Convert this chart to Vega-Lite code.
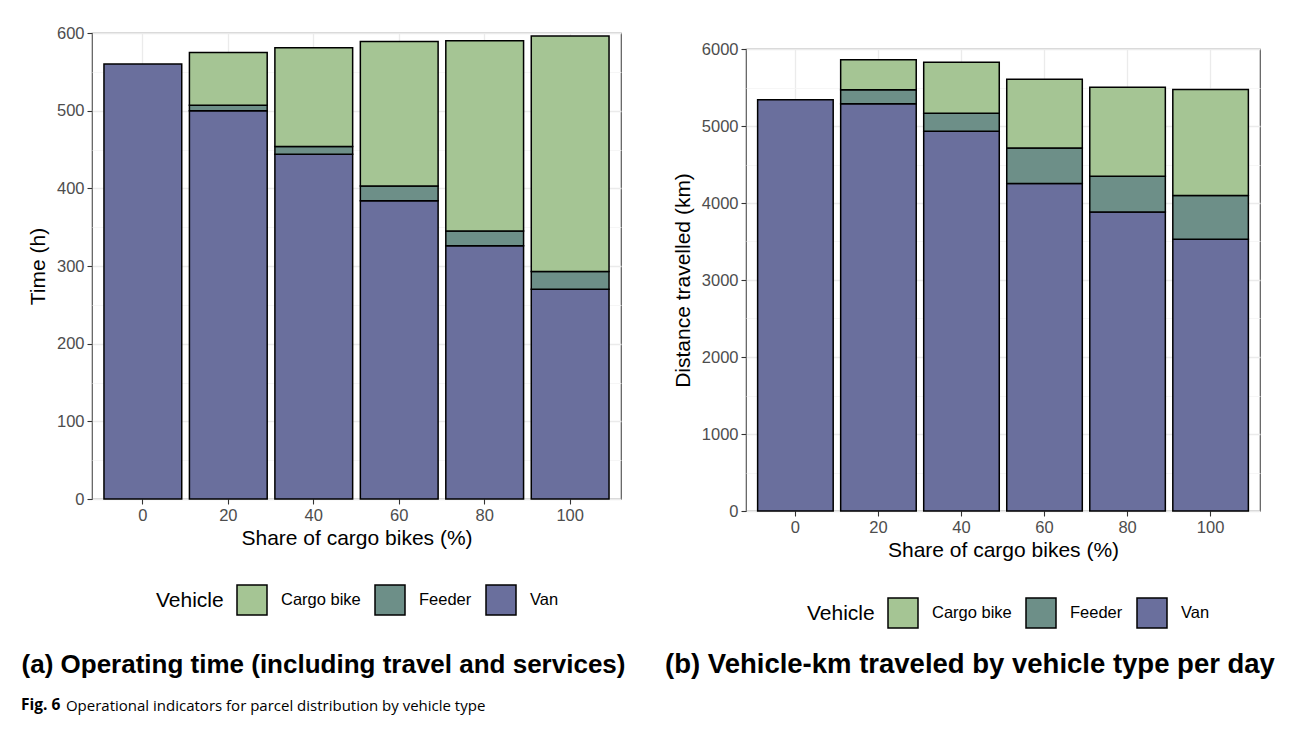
{
  "$schema": "https://vega.github.io/schema/vega-lite/v6.json",
  "background": "white",
  "padding": {"left": 20, "top": 24, "right": 5, "bottom": 5},
  "config": {
    "font": "Liberation Sans",
    "view": {"stroke": "#5a5a5a", "strokeWidth": 1.2},
    "axis": {
      "domain": false,
      "tickColor": "#333333",
      "tickSize": 5,
      "tickWidth": 1.1,
      "labelColor": "#4D4D4D",
      "labelFontSize": 16.5,
      "labelPadding": 3,
      "titleFontSize": 21,
      "titleFontWeight": "normal",
      "titleColor": "black",
      "gridColor": "#EBEBEB",
      "gridWidth": 1.3
    },
    "legend": {
      "orient": "none",
      "direction": "horizontal",
      "titleOrient": "left",
      "titleBaseline": "middle",
      "titleFontSize": 21,
      "titleFontWeight": "normal",
      "titleColor": "black",
      "titlePadding": 12,
      "labelFontSize": 16.5,
      "labelColor": "black",
      "labelOffset": 13,
      "columnPadding": 11,
      "symbolType": "square",
      "symbolSize": 900,
      "symbolStrokeColor": "black",
      "symbolStrokeWidth": 1.5,
      "symbolOpacity": 1
    }
  },
  "datasets": {
    "time": [
      {"share": 0, "vehicle": "Van", "hours": 560},
      {"share": 20, "vehicle": "Van", "hours": 500},
      {"share": 20, "vehicle": "Feeder", "hours": 7},
      {"share": 20, "vehicle": "Cargo bike", "hours": 68},
      {"share": 40, "vehicle": "Van", "hours": 444},
      {"share": 40, "vehicle": "Feeder", "hours": 10},
      {"share": 40, "vehicle": "Cargo bike", "hours": 127},
      {"share": 60, "vehicle": "Van", "hours": 384},
      {"share": 60, "vehicle": "Feeder", "hours": 19},
      {"share": 60, "vehicle": "Cargo bike", "hours": 186},
      {"share": 80, "vehicle": "Van", "hours": 326},
      {"share": 80, "vehicle": "Feeder", "hours": 19},
      {"share": 80, "vehicle": "Cargo bike", "hours": 245},
      {"share": 100, "vehicle": "Van", "hours": 270},
      {"share": 100, "vehicle": "Feeder", "hours": 23},
      {"share": 100, "vehicle": "Cargo bike", "hours": 303}
    ],
    "distance": [
      {"share": 0, "vehicle": "Van", "km": 5340},
      {"share": 20, "vehicle": "Van", "km": 5290},
      {"share": 20, "vehicle": "Feeder", "km": 182},
      {"share": 20, "vehicle": "Cargo bike", "km": 389},
      {"share": 40, "vehicle": "Van", "km": 4931},
      {"share": 40, "vehicle": "Feeder", "km": 234},
      {"share": 40, "vehicle": "Cargo bike", "km": 662},
      {"share": 60, "vehicle": "Van", "km": 4252},
      {"share": 60, "vehicle": "Feeder", "km": 462},
      {"share": 60, "vehicle": "Cargo bike", "km": 892},
      {"share": 80, "vehicle": "Van", "km": 3884},
      {"share": 80, "vehicle": "Feeder", "km": 463},
      {"share": 80, "vehicle": "Cargo bike", "km": 1156},
      {"share": 100, "vehicle": "Van", "km": 3528},
      {"share": 100, "vehicle": "Feeder", "km": 568},
      {"share": 100, "vehicle": "Cargo bike", "km": 1377}
    ]
  },
  "title": {
    "text": "Fig. 6",
    "orient": "bottom",
    "anchor": "start",
    "frame": "bounds",
    "offset": -16,
    "font": "Open Sans",
    "fontSize": 15.5,
    "fontWeight": "bold",
    "color": "black"
  },
  "vconcat": [
    {
      "title": {
        "text": "Operational indicators for parcel distribution by vehicle type",
        "orient": "bottom",
        "anchor": "start",
        "frame": "bounds",
        "dx": 45,
        "offset": 20,
        "font": "Open Sans",
        "fontSize": 15,
        "fontWeight": "normal",
        "color": "black"
      },
      "hconcat": [
        {
          "width": 529,
          "height": 466,
          "data": {"name": "time"},
          "title": {
            "text": "(a) Operating time (including travel and services)",
            "orient": "bottom",
            "anchor": "middle",
            "dx": -33,
            "offset": 34,
            "fontSize": 26,
            "fontWeight": "bold",
            "color": "black"
          },
          "encoding": {
            "x": {
              "field": "share",
              "type": "ordinal",
              "scale": {"paddingInner": 0.09, "paddingOuter": 0.14},
              "axis": {"labelAngle": 0, "title": "Share of cargo bikes (%)", "titlePadding": 4, "grid": true, "bandPosition": 0.5}
            }
          },
          "layer": [
            {
              "mark": {"type": "point", "opacity": 0},
              "encoding": {
                "y": {
                  "field": "hours",
                  "type": "quantitative",
                  "scale": {"domain": [0, 600], "nice": false, "zero": true},
                  "axis": {"orient": "left", "values": [50, 150, 250, 350, 450, 550], "grid": true, "gridColor": "#F4F4F4", "gridWidth": 0.8, "labels": false, "ticks": false, "title": null}
                }
              }
            },
            {
              "mark": {"type": "bar", "stroke": "black", "strokeWidth": 1.5},
              "encoding": {
                "y": {
                  "field": "hours",
                  "type": "quantitative",
                  "stack": "zero",
                  "scale": {"domain": [0, 600], "nice": false, "zero": true},
                  "axis": {"orient": "left", "values": [0, 100, 200, 300, 400, 500, 600], "format": "d", "grid": true, "title": "Time (h)", "titlePadding": 8}
                },
                "color": {
                  "field": "vehicle",
                  "type": "nominal",
                  "scale": {"domain": ["Cargo bike", "Feeder", "Van"], "range": ["#A5C594", "#6D8F88", "#6A6F9D"]},
                  "legend": {"title": "Vehicle", "legendX": 64, "legendY": 551}
                },
                "order": {"field": "vehicle", "sort": "descending"}
              }
            }
          ],
          "resolve": {"axis": {"y": "independent"}}
        },
        {
          "spacing": 0,
          "vconcat": [
            {
              "width": 514,
              "height": 7,
              "view": {"stroke": null},
              "data": {"values": []},
              "mark": "point",
              "encoding": {}
            },
            {
              "width": 514,
              "height": 462,
              "data": {"name": "distance"},
              "title": {
                "text": "(b) Vehicle-km traveled by vehicle type per day",
                "orient": "bottom",
                "anchor": "middle",
                "dx": -33,
                "offset": 90,
                "fontSize": 27.5,
                "fontWeight": "bold",
                "color": "black"
              },
              "encoding": {
                "x": {
                  "field": "share",
                  "type": "ordinal",
                  "scale": {"paddingInner": 0.09, "paddingOuter": 0.14},
                  "axis": {"labelAngle": 0, "title": "Share of cargo bikes (%)", "titlePadding": 4, "grid": true, "bandPosition": 0.5}
                }
              },
              "layer": [
                {
                  "mark": {"type": "point", "opacity": 0},
                  "encoding": {
                    "y": {
                      "field": "km",
                      "type": "quantitative",
                      "scale": {"domain": [0, 6000], "nice": false, "zero": true},
                      "axis": {"orient": "left", "values": [500, 1500, 2500, 3500, 4500, 5500], "grid": true, "gridColor": "#F4F4F4", "gridWidth": 0.8, "labels": false, "ticks": false, "title": null}
                    }
                  }
                },
                {
                  "mark": {"type": "bar", "stroke": "black", "strokeWidth": 1.5},
                  "encoding": {
                    "y": {
                      "field": "km",
                      "type": "quantitative",
                      "stack": "zero",
                      "scale": {"domain": [0, 6000], "nice": false, "zero": true},
                      "axis": {"orient": "left", "values": [0, 1000, 2000, 3000, 4000, 5000, 6000], "format": "d", "grid": true, "title": "Distance travelled (km)", "titlePadding": 8}
                    },
                    "color": {
                      "field": "vehicle",
                      "type": "nominal",
                      "scale": {"domain": ["Cargo bike", "Feeder", "Van"], "range": ["#A5C594", "#6D8F88", "#6A6F9D"]},
                      "legend": {"title": "Vehicle", "legendX": 61, "legendY": 564}
                    },
                    "order": {"field": "vehicle", "sort": "descending"}
                  }
                }
              ],
              "resolve": {"axis": {"y": "independent"}}
            }
          ]
        }
      ],
      "spacing": 37,
      "resolve": {"scale": {"color": "independent"}, "legend": {"color": "independent"}}
    }
  ]
}
